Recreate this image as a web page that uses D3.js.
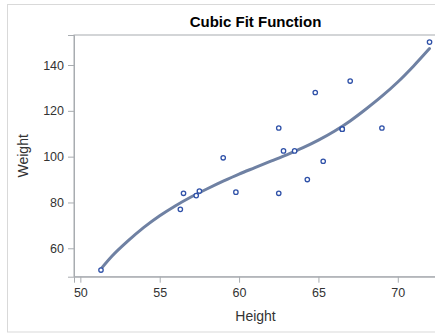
<!DOCTYPE html>
<html>
<head>
<meta charset="utf-8">
<script src="https://cdn.jsdelivr.net/npm/d3@7"></script>
<style>
  body { margin: 0; background: #fff; }
  text { font-family: "Liberation Sans", Arial, sans-serif; }
</style>
</head>
<body>
<div id="chart-area"></div>
<script>
// class data: height vs weight
var heights = [69.0, 56.5, 65.3, 62.8, 63.5, 57.3, 59.8, 62.5, 62.5, 59.0,
               51.3, 64.3, 56.3, 66.5, 72.0, 64.8, 67.0, 57.5, 66.5];
var weights = [112.5, 84.0, 98.0, 102.5, 102.5, 83.0, 84.5, 112.5, 84.0, 99.5,
               50.5, 90.0, 77.0, 112.0, 150.0, 128.0, 133.0, 85.0, 112.0];

// cubic fit curve
var fitHeight = [51.3, 52, 53, 54, 55, 56, 57, 58, 59, 60, 61, 62,
                 63, 64, 65, 66, 67, 68, 69, 70, 71, 72];
var fitWeight = [51.0, 56.6, 63.2, 69.1, 74.2, 78.6, 82.5, 86.0, 89.3, 92.4, 95.2, 98.0,
                 100.8, 103.8, 107.2, 111.1, 115.6, 120.8, 126.4, 132.6, 139.6, 147.2];

var xTicks = [50, 55, 60, 65, 70];
var yTicks = [60, 80, 100, 120, 140];

var W = 435, H = 334;
var plot = { left: 74, right: 437, top: 35, bottom: 276.7 };

var svg = d3.select("#chart-area")
    .append("svg")
        .attr("width", W)
        .attr("height", H);

// outer border
svg.append("rect")
    .attr("x", 7.5).attr("y", 4.5)
    .attr("width", 440).attr("height", 327.5)
    .attr("fill", "none")
    .attr("stroke", "#d9d9d9");

var x = d3.scaleLinear()
    .domain([49.6, 72.47])
    .range([plot.left, plot.right]);

var y = d3.scaleLinear()
    .domain([47.6, 153.1])
    .range([plot.bottom, plot.top]);

// frame
svg.append("rect")
    .attr("x", plot.left).attr("y", plot.top)
    .attr("width", plot.right - plot.left)
    .attr("height", plot.bottom - plot.top)
    .attr("fill", "none")
    .attr("stroke", "#a8acb0");

var x_axis = d3.axisBottom(x).tickValues(xTicks).tickSize(6).tickPadding(5);
var y_axis = d3.axisLeft(y).tickValues(yTicks).tickSize(6).tickPadding(4);

svg.append("g")
    .attr("class", "axis axis--x")
    .attr("transform", "translate(0," + plot.bottom + ")")
    .call(x_axis);

svg.append("g")
    .attr("class", "axis axis--y")
    .attr("transform", "translate(" + plot.left + ",0)")
    .call(y_axis);

svg.selectAll(".axis .domain").attr("stroke", "#a8acb0");
svg.selectAll(".axis line").attr("stroke", "#a8acb0");
svg.selectAll(".axis text")
    .attr("fill", "#333")
    .attr("font-size", "12.5px")
    .attr("font-family", "'Liberation Sans', Arial, sans-serif");

// fit line
var fitData = fitHeight.map(function(h, i){ return { h: h, w: fitWeight[i] }; });
var line = d3.line()
    .x(function(d){ return x(d.h); })
    .y(function(d){ return y(d.w); })
    .curve(d3.curveMonotoneX);

svg.append("path")
    .datum(fitData)
    .attr("d", line)
    .attr("fill", "none")
    .attr("stroke", "#6f81a3")
    .attr("stroke-width", 3)
    .attr("stroke-linecap", "round");

// points
var pts = heights.map(function(h, i){ return { h: h, w: weights[i] }; });
svg.selectAll("circle.pt")
    .data(pts)
    .enter()
    .append("circle")
    .attr("class", "pt")
    .attr("cx", function(d){ return x(d.h); })
    .attr("cy", function(d){ return y(d.w); })
    .attr("r", 2.2)
    .attr("fill", "#fff")
    .attr("stroke", "#2f51a8")
    .attr("stroke-width", 1.3);

// title and labels
svg.append("text")
    .attr("x", (plot.left + plot.right) / 2)
    .attr("y", 27)
    .attr("text-anchor", "middle")
    .attr("font-size", "15px")
    .attr("font-weight", "bold")
    .attr("fill", "#000")
    .text("Cubic Fit Function");

svg.append("text")
    .attr("x", (plot.left + plot.right) / 2)
    .attr("y", 321)
    .attr("text-anchor", "middle")
    .attr("font-size", "14px")
    .attr("fill", "#333")
    .text("Height");

svg.append("text")
    .attr("transform", "translate(28," + ((plot.top + plot.bottom) / 2) + ") rotate(-90)")
    .attr("text-anchor", "middle")
    .attr("font-size", "14px")
    .attr("fill", "#333")
    .text("Weight");
</script>
</body>
</html>
